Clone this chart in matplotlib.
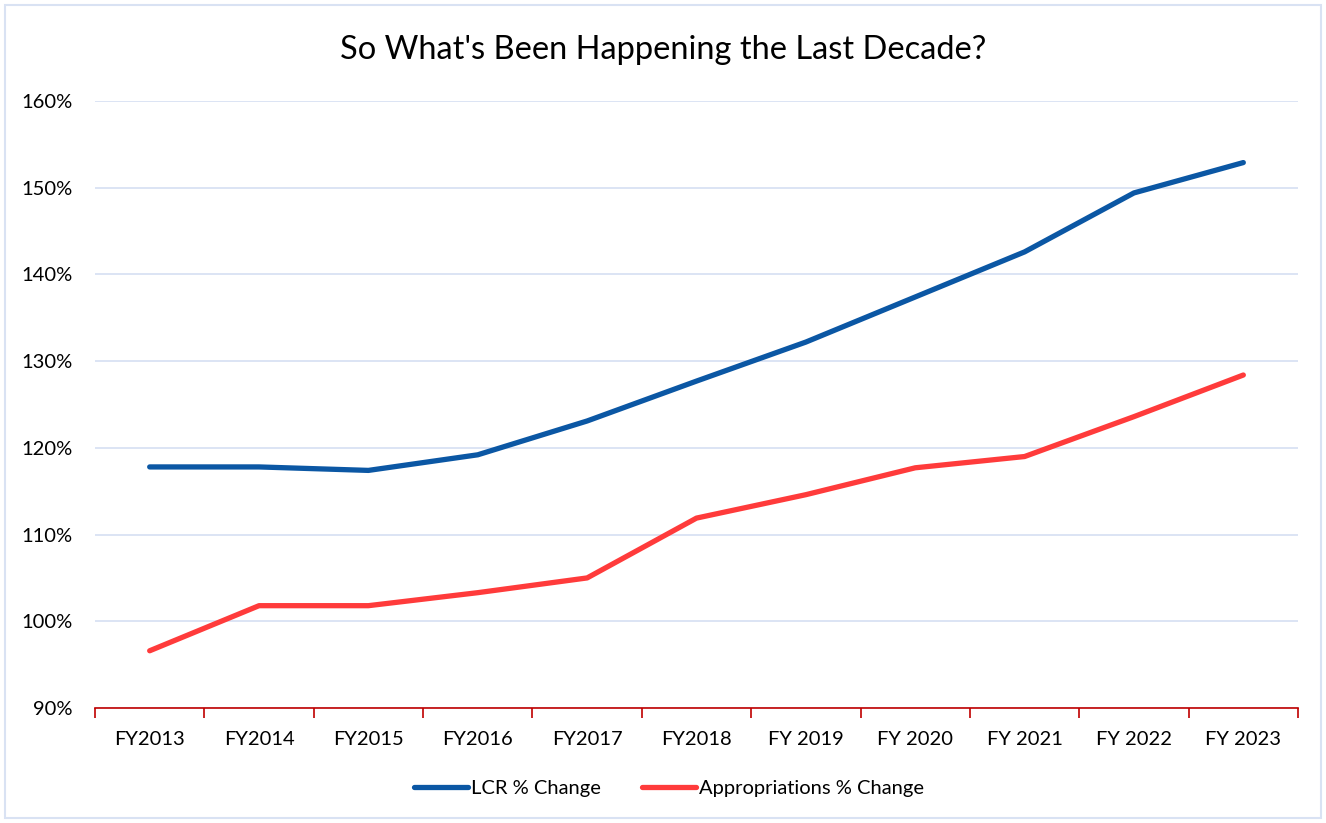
import matplotlib
matplotlib.use("Agg")
import matplotlib.pyplot as plt
from matplotlib.ticker import FixedLocator, FuncFormatter
from matplotlib.patches import Rectangle

categories = ["FY2013", "FY2014", "FY2015", "FY2016", "FY2017", "FY2018",
              "FY 2019", "FY 2020", "FY 2021", "FY 2022", "FY 2023"]
lcr_change = [1.178, 1.178, 1.174, 1.192, 1.231, 1.277, 1.322, 1.374, 1.426, 1.494, 1.529]
approp_change = [0.966, 1.018, 1.018, 1.033, 1.050, 1.119, 1.146, 1.177, 1.190, 1.236, 1.284]
y_ticks = [0.9, 1.0, 1.1, 1.2, 1.3, 1.4, 1.5, 1.6]

plt.rcParams['font.family'] = ['Lato', 'DejaVu Sans']

fig = plt.figure(figsize=(13.26, 8.23), dpi=100)
ax = fig.add_axes([95/1326, 1-708/823, (1298-95)/1326, (708-101)/823])

x = list(range(len(categories)))
ax.plot(x, lcr_change, color="#0B57A4", lw=3.8, solid_capstyle="round", solid_joinstyle="round",
        label="LCR % Change", zorder=3)
ax.plot(x, approp_change, color="#FF3B3B", lw=3.8, solid_capstyle="round", solid_joinstyle="round",
        label="Appropriations % Change", zorder=3)

ax.set_xlim(-0.5, len(categories) - 0.5)
ax.set_ylim(0.9, 1.6)
ax.set_yticks(y_ticks)
ax.yaxis.set_major_formatter(FuncFormatter(lambda v, p: f"{v*100:.0f}%"))
ax.set_xticks(x)
ax.set_xticklabels(categories)
ax.xaxis.set_minor_locator(FixedLocator([i - 0.5 for i in range(len(categories) + 1)]))

ax.grid(axis="y", color="#D9E2F3", lw=1.3, zorder=0)
for s in ["top", "right", "left"]:
    ax.spines[s].set_visible(False)
ax.spines["bottom"].set_color("#C00000")
ax.spines["bottom"].set_linewidth(1.2)
ax.tick_params(axis="y", length=0, labelsize=14.5, pad=16, colors="#000000")
ax.tick_params(axis="x", which="major", length=0, labelsize=14.5, pad=16.5)
ax.tick_params(axis="x", which="minor", length=7, color="#C00000", width=1.2, direction="out")

fig.text(0.5, 1-50/823, "So What's Been Happening the Last Decade?", ha="center", va="center",
         fontsize=23.5, color="#000000")

leg = fig.legend(*ax.get_legend_handles_labels(), loc="center",
                 bbox_to_anchor=(669/1326, 1-788/823), ncol=2, frameon=False,
                 fontsize=14.5, handlelength=2.7, columnspacing=2.0, handletextpad=0.15)

fig.patches.append(Rectangle((5/1326, 5/823), 1-10/1326, 1-10/823, transform=fig.transFigure,
                             fill=False, edgecolor="#D9E2F3", lw=1.5))

fig.savefig("out.png", dpi=100, facecolor="white")
